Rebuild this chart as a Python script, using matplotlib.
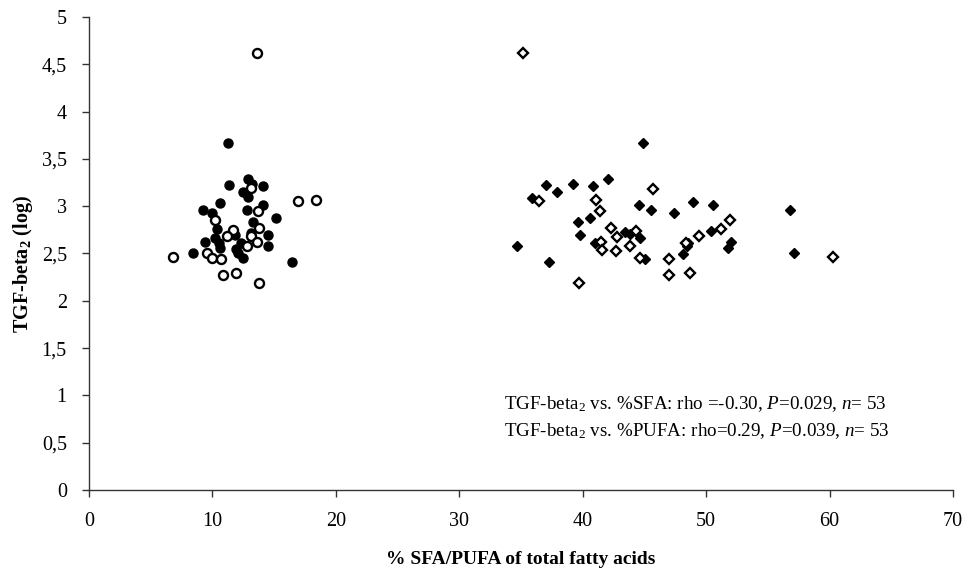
import matplotlib
matplotlib.use("Agg")
import matplotlib.pyplot as plt
from matplotlib.ticker import FuncFormatter

plt.rcParams['font.family'] = ['Liberation Serif', 'DejaVu Serif']
plt.rcParams['mathtext.fontset'] = 'custom'
plt.rcParams['mathtext.rm'] = 'Liberation Serif'
plt.rcParams['mathtext.it'] = 'Liberation Serif:italic'
plt.rcParams['mathtext.bf'] = 'Liberation Serif:bold'

# %PUFA (left cluster), circles
pufa_filled_x = [11.28, 11.37, 12.86, 13.2, 14.12, 12.5, 12.9, 10.61, 14.07, 12.77,
                 9.21, 9.97, 15.15, 13.3, 10.35, 11.85, 13.12, 14.53, 10.2, 9.4,
                 10.56, 10.61, 12.31, 14.53, 11.9, 12.1, 8.4, 12.5, 16.45]
pufa_filled_y = [3.67, 3.22, 3.29, 3.23, 3.21, 3.15, 3.10, 3.03, 3.01, 2.96,
                 2.96, 2.93, 2.87, 2.83, 2.76, 2.70, 2.72, 2.70, 2.66, 2.62,
                 2.61, 2.56, 2.61, 2.58, 2.55, 2.50, 2.51, 2.45, 2.41]
pufa_open_x = [13.64, 16.96, 18.39, 13.1, 13.72, 10.2, 11.64, 13.8, 11.15, 13.1,
               13.58, 12.83, 6.83, 9.53, 9.97, 10.72, 10.88, 11.9, 13.8]
pufa_open_y = [4.62, 3.05, 3.07, 3.19, 2.95, 2.85, 2.75, 2.77, 2.69, 2.68,
               2.62, 2.58, 2.46, 2.50, 2.45, 2.44, 2.27, 2.29, 2.19]

# %SFA (right cluster), diamonds
sfa_filled_x = [44.86, 42.07, 37.03, 39.24, 40.86, 37.94, 35.86, 48.91, 50.58, 44.53,
                45.5, 47.39, 40.56, 39.62, 39.78, 43.4, 43.83, 44.64, 41.02, 50.42,
                34.7, 37.24, 45.07, 48.42, 48.15, 48.56, 51.99, 51.77, 56.79, 57.12]
sfa_filled_y = [3.67, 3.29, 3.22, 3.23, 3.21, 3.15, 3.09, 3.04, 3.01, 3.01,
                2.96, 2.93, 2.87, 2.83, 2.70, 2.73, 2.71, 2.66, 2.61, 2.74,
                2.58, 2.41, 2.44, 2.58, 2.49, 2.61, 2.62, 2.56, 2.96, 2.51]
sfa_open_x = [35.19, 45.72, 36.48, 41.08, 41.4, 42.27, 42.75, 44.31, 43.83, 41.46,
              41.54, 42.67, 44.64, 47.02, 46.99, 48.69, 39.72, 49.44, 51.2, 51.93,
              48.37, 60.25]
sfa_open_y = [4.62, 3.18, 3.05, 3.07, 2.95, 2.77, 2.67, 2.74, 2.58, 2.62,
              2.54, 2.53, 2.45, 2.44, 2.27, 2.29, 2.19, 2.69, 2.76, 2.85,
              2.61, 2.46]

fig = plt.figure(figsize=(9.64, 5.71), dpi=100)
ax = fig.add_axes([0.0923, 0.1419, 0.8963, 0.8283])

ms = 6.5
ax.plot(pufa_filled_x, pufa_filled_y, 'o', ms=ms, color='black', mec='black', ls='none')
ax.plot(pufa_open_x, pufa_open_y, 'o', ms=ms, mfc='white', mec='black', mew=1.7, ls='none')
ax.plot(sfa_filled_x, sfa_filled_y, 'D', ms=ms - 0.9, color='black', mec='black', ls='none')
ax.plot(sfa_open_x, sfa_open_y, 'D', ms=ms - 0.9, mfc='white', mec='black', mew=1.7, ls='none')

ax.set_xlim(0, 70)
ax.set_ylim(0, 5)
ax.set_xticks(range(0, 71, 10))
ax.set_yticks([i * 0.5 for i in range(11)])
ax.yaxis.set_major_formatter(FuncFormatter(lambda v, p: ('%g' % v).replace('.', ',')))

for s in ['top', 'right']:
    ax.spines[s].set_visible(False)
for s in ['left', 'bottom']:
    ax.spines[s].set_color('#333333')
    ax.spines[s].set_linewidth(1.0)
ax.tick_params(direction='out', length=5, width=1, color='#333333', labelsize=14.5)
ax.tick_params(axis='x', pad=11)
ax.tick_params(axis='y', pad=11)

ax.set_xlabel('% SFA/PUFA of total fatty acids', fontsize=14, fontweight='bold', labelpad=14)
ax.set_ylabel(r'TGF-beta$_\mathbf{2}$ (log)', fontsize=14.5, fontweight='bold')
ax.yaxis.set_label_coords(-0.062, 0.477)

ax.text(0.48, 0.172, r'TGF-beta$_2$ vs. %SFA: rho =-0.30, $P$=0.029, $n$= 53',
        transform=ax.transAxes, fontsize=13.7)
ax.text(0.48, 0.113, r'TGF-beta$_2$ vs. %PUFA: rho=0.29, $P$=0.039, $n$= 53',
        transform=ax.transAxes, fontsize=13.7)

fig.savefig('out.png', dpi=100)
